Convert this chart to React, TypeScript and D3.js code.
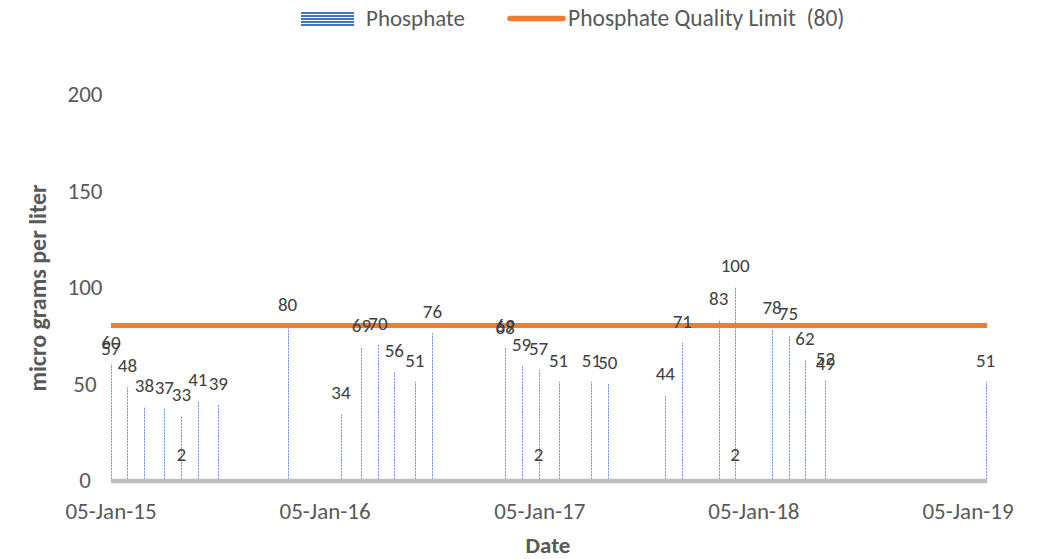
import React from "react";
import * as d3 from "d3";

const dates: string[] = [
  "2015-01-05", "2015-01-05", "2015-02-02", "2015-03-03", "2015-04-06", "2015-05-05", "2015-05-05",
  "2015-06-02", "2015-07-07", "2015-11-02", "2016-02-01", "2016-03-07", "2016-04-04", "2016-05-02",
  "2016-06-06", "2016-07-06", "2016-11-07", "2016-11-07", "2016-12-05", "2017-01-03", "2017-01-03",
  "2017-02-06", "2017-04-03", "2017-05-01", "2017-08-07", "2017-09-05", "2017-11-06", "2017-12-04",
  "2017-12-04", "2018-02-05", "2018-03-05", "2018-04-02", "2018-05-07", "2018-05-07", "2019-02-04",
];
const phosphate: number[] = [
  60, 57, 48, 38, 37, 33, 2,
  41, 39, 80, 34, 69, 70, 56,
  51, 76, 69, 68, 59, 57, 2,
  51, 51, 50, 44, 71, 83, 100,
  2, 78, 75, 62, 52, 49, 51,
];
const qualityLimit = 80;
const yTicks: number[] = [0, 50, 100, 150, 200];
const xTickLabels: string[] = ["05-Jan-15", "05-Jan-16", "05-Jan-17", "05-Jan-18", "05-Jan-19"];
const xTickDates: string[] = ["2015-01-05", "2016-01-05", "2017-01-05", "2018-01-05", "2019-01-05"];
const axisEndDate = "2019-02-05";

const FONT = "Calibri, Carlito, Lato, 'Open Sans', sans-serif";

export default function App() {
  const W = 1045, H = 559;
  const parse = (s: string) => new Date(s + "T00:00:00Z");
  const x = d3.scaleUtc().domain([parse(xTickDates[0]), parse(xTickDates[4])]).range([111, 968]);
  const y = d3.scaleLinear().domain([0, 200]).range([480, 94]);
  const axisStart = x(parse(xTickDates[0]));
  const axisEnd = x(parse(axisEndDate)) + 1;

  return (
    <svg width={W} height={H} style={{ position: "absolute", left: 0, top: 0, background: "#fff" }}>
      <defs>
        <pattern id="stripe" patternUnits="userSpaceOnUse" width={4} height={3}>
          <rect x={0} y={0} width={4} height={2} fill="#7C9FDC" />
          <rect x={0} y={2} width={4} height={1} fill="#DCE6F6" />
        </pattern>
        <pattern id="stripeLeg" patternUnits="userSpaceOnUse" width={60} height={3} y={12}>
          <rect x={0} y={0} width={60} height={2} fill="#4472C4" />
          <rect x={0} y={2} width={60} height={1} fill="#ffffff" />
        </pattern>
      </defs>

      {/* Legend */}
      <rect x={301} y={12} width={53} height={14} fill="url(#stripeLeg)" />
      <text x={366} y={26} fontFamily={FONT} fontSize={23} fill="#595959">Phosphate</text>
      <line x1={510} x2={563} y1={18.5} y2={18.5} stroke="#ED7D31" strokeWidth={5.5} strokeLinecap="round" />
      <text x={568} y={26} fontFamily={FONT} fontSize={23.5} fill="#595959" style={{ whiteSpace: "pre" }}>
        {"Phosphate Quality Limit  (80)"}
      </text>

      {/* Y tick labels */}
      {yTicks.map((t) => (
        <text key={t} x={85} y={y(t) + 8} textAnchor="middle" fontFamily={FONT} fontSize={23} fill="#595959">
          {t}
        </text>
      ))}

      {/* Bars */}
      {phosphate.map((v, i) => {
        const cx = Math.round(x(parse(dates[i])));
        return (
          <rect key={"b" + i} x={cx} y={y(v)} width={1} height={y(0) - y(v)} fill="url(#stripe)" />
        );
      })}

      {/* Axis line */}
      <line x1={axisStart} x2={axisEnd} y1={481} y2={481} stroke="#BFBFBF" strokeWidth={4.5} />

      {/* Quality limit line */}
      <line x1={axisStart} x2={axisEnd} y1={y(qualityLimit)} y2={y(qualityLimit)} stroke="#ED7D31" strokeWidth={5} />

      {/* Data labels */}
      {phosphate.map((v, i) => {
        const cx = x(parse(dates[i]));
        return (
          <text key={"l" + i} x={cx} y={y(v) - 15} textAnchor="middle" fontFamily={FONT} fontSize={19} fill="#404040">
            {v}
          </text>
        );
      })}

      {/* X tick labels */}
      {xTickLabels.map((l, i) => (
        <text key={l} x={x(parse(xTickDates[i]))} y={519} textAnchor="middle" fontFamily={FONT} fontSize={23} fill="#595959">
          {l}
        </text>
      ))}

      {/* Axis titles */}
      <text x={548} y={553} textAnchor="middle" fontFamily={FONT} fontSize={23} fontWeight="bold" fill="#595959">
        Date
      </text>
      <text
        transform="translate(46,288) rotate(-90)"
        textAnchor="middle"
        fontFamily={FONT}
        fontSize={24}
        fontWeight="bold"
        fill="#595959"
      >
        micro grams per liter
      </text>
    </svg>
  );
}
